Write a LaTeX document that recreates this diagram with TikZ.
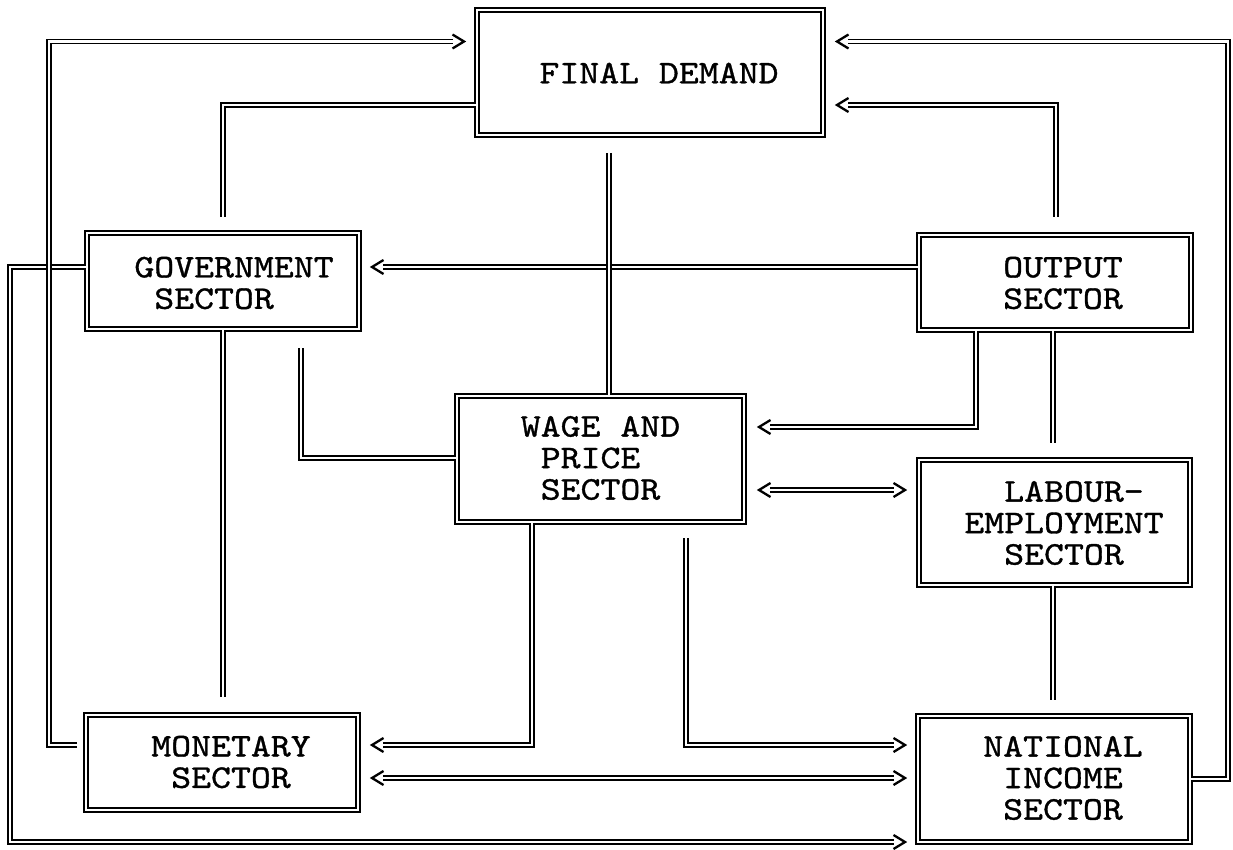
\documentclass[tikz,border=0pt]{standalone}
\usepackage{fontspec}
\newfontfamily\boxfont{lmmono10-regular.otf}[FakeStretch=1.15, FakeBold=1.0]
\usetikzlibrary{calc}
\newcommand\chsp{\hphantom{X}}
\begin{document}
\begin{tikzpicture}[x=1pt,y=-1pt,
  box/.style={draw, line width=1.8pt, double, double distance=2.2pt, inner sep=0pt},
  conn/.style={draw, line width=1.6pt, double, double distance=2.2pt, line join=miter},
  tipend/.style={shorten >=11pt},
  tipstart/.style={shorten <=11pt},
  chev/.style={line width=2.3pt, line join=miter},
  lbl/.style={font=\boxfont\fontsize{33}{31.5}\selectfont, align=left, inner sep=0pt},
  chevR/.pic={\draw[chev] (-11.5,-7) -- (0,0) -- (-11.5,7);},
  chevL/.pic={\draw[chev] (11.5,-7) -- (0,0) -- (11.5,7);},
]
\fill[white] (0,0) rectangle (1233,850);
\useasboundingbox (0,0) rectangle (1233,850);

% boxes
\node[box, minimum width=346.6pt, minimum height=125.6pt] (fd)   at (650,72.5)  {};
\node[box, minimum width=272.6pt, minimum height=96.6pt]  (gov)  at (223,281)   {};
\node[box, minimum width=272.6pt, minimum height=95.6pt]  (out)  at (1055,282.5){};
\node[box, minimum width=287.6pt, minimum height=126.6pt] (wage) at (600.5,459) {};
\node[box, minimum width=271.6pt, minimum height=125.6pt] (lab)  at (1054.5,522.5){};
\node[box, minimum width=272.6pt, minimum height=95.6pt]  (mon)  at (222,762.5) {};
\node[box, minimum width=272.6pt, minimum height=126.6pt] (nat)  at (1054,779)  {};

% labels
\node[lbl] (fdT)   at (659,73)    {FINAL DEMAND};
\node[lbl] (govT)  at (234,283)   {GOVERNMENT\\\chsp SECTOR};
\node[lbl] (outT)  at (1063,283)  {OUTPUT\\SECTOR};
\node[lbl] (wageT) at (600.5,458) {WAGE AND\\\chsp PRICE\\\chsp SECTOR};
\node[lbl] (labT)  at (1064,523)  {\chsp\chsp LABOUR-\\EMPLOYMENT\\\chsp\chsp SECTOR};
\node[lbl] (monT)  at (231,762)   {MONETARY\\\chsp SECTOR};
\node[lbl] (natT)  at (1063,778)  {NATIONAL\\\chsp INCOME\\\chsp SECTOR};

% free ends and arrow tips
\coordinate (m1)  at (77,745);
\coordinate (t1)  at (464,41.5);
\coordinate (g1)  at (223,217);
\coordinate (t3)  at (905,842);
\coordinate (t4)  at (372,267);
\coordinate (f1)  at (609,153);
\coordinate (t6)  at (837,41.5);
\coordinate (o1)  at (1056,217);
\coordinate (t7)  at (837,105);
\coordinate (g2)  at (301,348);
\coordinate (m2)  at (223,697);
\coordinate (t10) at (759,427);
\coordinate (l1)  at (1053,443);
\coordinate (a12) at (759,490);
\coordinate (b12) at (905,490);
\coordinate (t13) at (372,745);
\coordinate (w1)  at (686,538);
\coordinate (t14) at (905,745);
\coordinate (n1)  at (1053,700);
\coordinate (a16) at (372,778);
\coordinate (b16) at (905,778);

% connectors
\draw[conn] ([yshift=-32.5pt]fd.west) -- (223,105) -- (g1);
\draw[conn] (gov.south) -- (m2);
\draw[conn, tipend] ([yshift=14pt]gov.west) -- (10,267) -- (10,842) -- (t3);
\draw[conn, tipend] (m1) -- (49,745) -- (49,41.5) -- (t1);
\draw[conn, tipend] ([yshift=15.5pt]out.west) -- (t4);
\draw[conn] (f1) -- ([xshift=8.5pt]wage.north);
\draw[conn, tipend] (nat.east) -- (1228,779) -- (1228,41.5) -- (t6);
\draw[conn, tipend] (o1) -- (1056,105) -- (t7);
\draw[conn] (g2) -- (301,458) -- ([yshift=1pt]wage.west);
\draw[conn, tipend] ([xshift=-79pt]out.south) -- (976,427) -- (t10);
\draw[conn] ([xshift=-2pt]out.south) -- (l1);
\draw[conn, tipstart, tipend] (a12) -- (b12);
\draw[conn, tipend] ([xshift=-68.5pt]wage.south) -- (532,745) -- (t13);
\draw[conn, tipend] (w1) -- (686,745) -- (t14);
\draw[conn] ([xshift=-1.5pt]lab.south) -- (n1);
\draw[conn, tipstart, tipend] (a16) -- (b16);

% arrow heads
\pic at (t1)  {chevR};
\pic at (t3)  {chevR};
\pic at (t4)  {chevL};
\pic at (t6)  {chevL};
\pic at (t7)  {chevL};
\pic at (t10) {chevL};
\pic at (a12) {chevL};
\pic at (b12) {chevR};
\pic at (t13) {chevL};
\pic at (t14) {chevR};
\pic at (a16) {chevL};
\pic at (b16) {chevR};
\end{tikzpicture}
\end{document}
